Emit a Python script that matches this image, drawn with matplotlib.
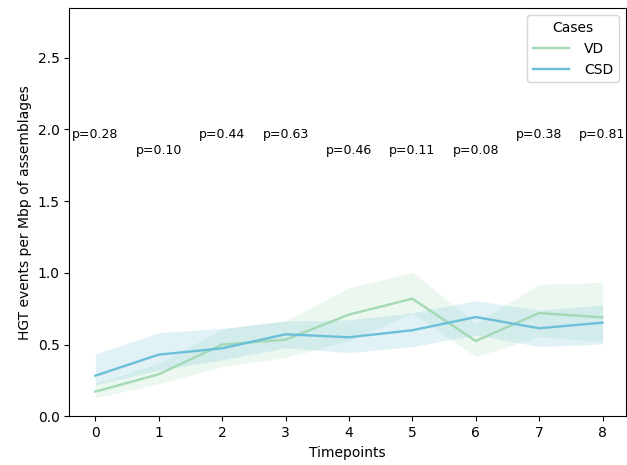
import matplotlib
matplotlib.use("Agg")
import matplotlib.pyplot as plt
import numpy as np

timepoints = [0, 1, 2, 3, 4, 5, 6, 7, 8]
vd_mean = [0.172, 0.293, 0.50, 0.534, 0.709, 0.82, 0.525, 0.72, 0.69]
vd_low = [0.13, 0.225, 0.346, 0.41, 0.525, 0.72, 0.416, 0.555, 0.52]
vd_high = [0.23, 0.37, 0.607, 0.665, 0.897, 1.004, 0.65, 0.92, 0.934]
csd_mean = [0.283, 0.43, 0.474, 0.572, 0.551, 0.60, 0.692, 0.614, 0.653]
csd_low = [0.218, 0.323, 0.393, 0.478, 0.444, 0.486, 0.567, 0.486, 0.504]
csd_high = [0.434, 0.583, 0.613, 0.665, 0.672, 0.722, 0.806, 0.741, 0.776]
p_labels = ["p=0.28", "p=0.10", "p=0.44", "p=0.63", "p=0.46", "p=0.11", "p=0.08", "p=0.38", "p=0.81"]
p_y = [1.965, 1.85, 1.965, 1.965, 1.85, 1.85, 1.85, 1.965, 1.965]

vd_color = "#a3d9b4"
csd_color = "#6cbfd8"

fig = plt.figure(figsize=(6.27, 4.65), dpi=100)
ax = fig.add_axes([69.3/627, 1-416.3/465, (626-69.3)/627, (416.3-8.3)/465])

ax.fill_between(timepoints, vd_low, vd_high, color=vd_color, alpha=0.2, linewidth=0)
ax.plot(timepoints, vd_mean, color=vd_color, lw=1.7, label="VD")
ax.fill_between(timepoints, csd_low, csd_high, color=csd_color, alpha=0.2, linewidth=0)
ax.plot(timepoints, csd_mean, color=csd_color, lw=1.7, label="CSD")

for x, lab, y in zip(timepoints, p_labels, p_y):
    ax.text(x, y, lab, ha="center", va="center", fontsize=9, clip_on=False)

ax.set_xlim(-0.41, 8.37)
ax.set_ylim(0, 2.845)
ax.set_xticks(timepoints)
ax.set_yticks([0.0, 0.5, 1.0, 1.5, 2.0, 2.5])
ax.set_xlabel("Timepoints")
ax.set_ylabel("HGT events per Mbp of assemblages")
ax.legend(title="Cases", loc="upper right", handlelength=2.6, handletextpad=1.1)

fig.savefig("out.png", dpi=100)
